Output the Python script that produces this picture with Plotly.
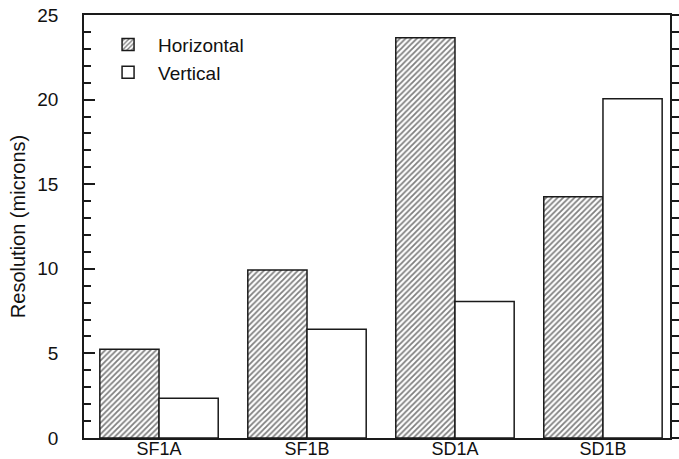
import plotly.graph_objects as go

categories = ["SF1A", "SF1B", "SD1A", "SD1B"]
horizontal = [5.24, 9.93, 23.66, 14.26]
vertical = [2.35, 6.42, 8.06, 20.05]
series_names = ["Horizontal", "Vertical"]
y_ticks = [0, 5, 10, 15, 20, 25]

FONT = "Liberation Sans, Arial, sans-serif"
LINE = "#1a1a1a"

fig = go.Figure()
fig.add_trace(go.Bar(
    x=categories, y=horizontal, name=series_names[0],
    marker=dict(color="white", line=dict(color=LINE, width=1.5),
                pattern=dict(shape="/", size=4, solidity=0.45,
                             fgcolor="#000000", bgcolor="white")),
))
fig.add_trace(go.Bar(
    x=categories, y=vertical, name=series_names[1],
    marker=dict(color="white", line=dict(color=LINE, width=1.5)),
))
# invisible trace to drive the right-hand mirrored axis
fig.add_trace(go.Scatter(x=categories, y=[None] * len(categories), yaxis="y2",
                         showlegend=False, hoverinfo="skip"))

fig.update_layout(
    width=679, height=459,
    margin=dict(l=84, r=9, t=15, b=21, autoexpand=False),
    paper_bgcolor="white", plot_bgcolor="white",
    barmode="group", bargap=0.2, bargroupgap=0,
    font=dict(family=FONT, size=19, color="#111"),
    showlegend=True,
    legend=dict(x=0.024, y=0.975, xanchor="left", yanchor="top",
                bgcolor="rgba(0,0,0,0)", borderwidth=0, itemwidth=50,
                font=dict(size=19, family=FONT)),
    xaxis=dict(range=[-0.507, 3.453], showline=True, linecolor=LINE, linewidth=1.5,
               mirror=True, ticks="", ticklen=0, showgrid=False, zeroline=False,
               automargin=False, tickfont=dict(size=18), ticklabelstandoff=-6),
    yaxis=dict(range=[0, 25], tickvals=y_ticks, showline=True, linecolor=LINE,
               linewidth=1.5, ticks="inside", ticklen=11, tickwidth=1.5, tickcolor=LINE,
               minor=dict(dtick=1, ticks="inside", ticklen=7, tickwidth=1.5, tickcolor=LINE),
               showgrid=False, zeroline=False, tickfont=dict(size=19),
               ticklabelstandoff=20, automargin=False,
               title=dict(text="Resolution (microns)", font=dict(size=20), standoff=6)),
    yaxis2=dict(range=[0, 25], tickvals=y_ticks, overlaying="y", side="right",
                showline=True, linecolor=LINE, linewidth=1.5, ticks="outside",
                ticklen=11, tickwidth=1.5, tickcolor=LINE, showticklabels=False,
                minor=dict(dtick=1, ticks="outside", ticklen=7, tickwidth=1.5, tickcolor=LINE),
                showgrid=False, zeroline=False, automargin=False),
)

fig.write_html("out.html", config={"displayModeBar": False},
               post_script="document.body.style.margin='0';")
